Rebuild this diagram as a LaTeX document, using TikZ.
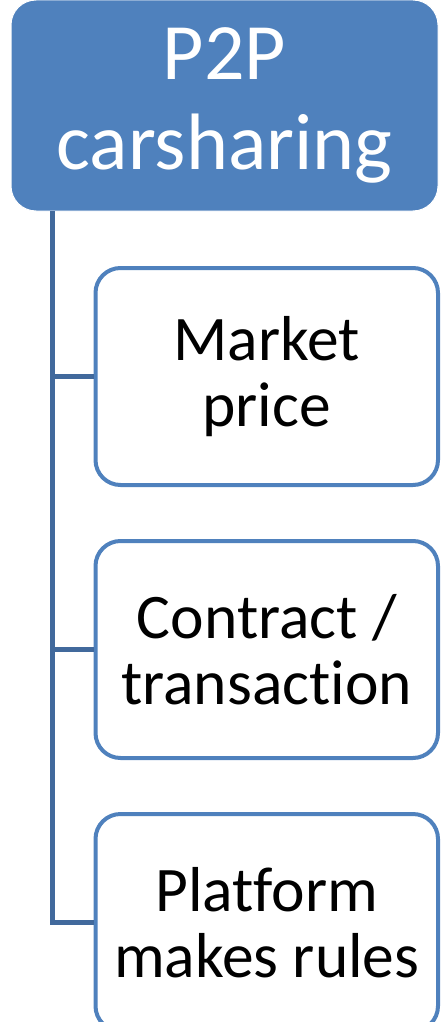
\documentclass[tikz,border=0pt]{standalone}
\usepackage{fontspec}
\setmainfont{Carlito}[Ligatures=NoCommon]
\usepackage{xcolor}
\usetikzlibrary{positioning}

\definecolor{accent}{HTML}{4F81BD}
\definecolor{linkblue}{HTML}{41699C}

\begin{document}
\begin{tikzpicture}[x=1pt, y=1pt, node distance=52pt,
		rootbox/.style={rectangle, rounded corners=25pt, fill=accent, draw=white, line width=1pt,
			minimum width=427pt, minimum height=211pt, text=white, align=center,
			font=\fontsize{80}{90}\selectfont},
		childbox/.style={rectangle, rounded corners=25pt, fill=white, draw=accent, line width=4pt,
			minimum width=342.5pt, minimum height=217pt, text=black, align=center,
			font=\fontsize{63.5}{66}\selectfont},
		link/.style={draw=linkblue, line width=5pt}]
		\useasboundingbox (0,0) rectangle (444,-1022);

		\node[rootbox] (root) at (224.5,-105.5) {P2P\\carsharing};
		\node[childbox] (price) at (266.75,-376.5) {Market\\price};
		\node[childbox] (contract) [below=of price] {Contract /\\transaction};
		\node[childbox] (rules) [below=of contract] {Platform\\makes rules};

		\coordinate (spine) at (52,-211);
		\draw[link] (spine) |- (price.west);
		\draw[link] (spine) |- (contract.west);
		\draw[link] (spine) |- (rules.west);
	\end{tikzpicture}
\end{document}
